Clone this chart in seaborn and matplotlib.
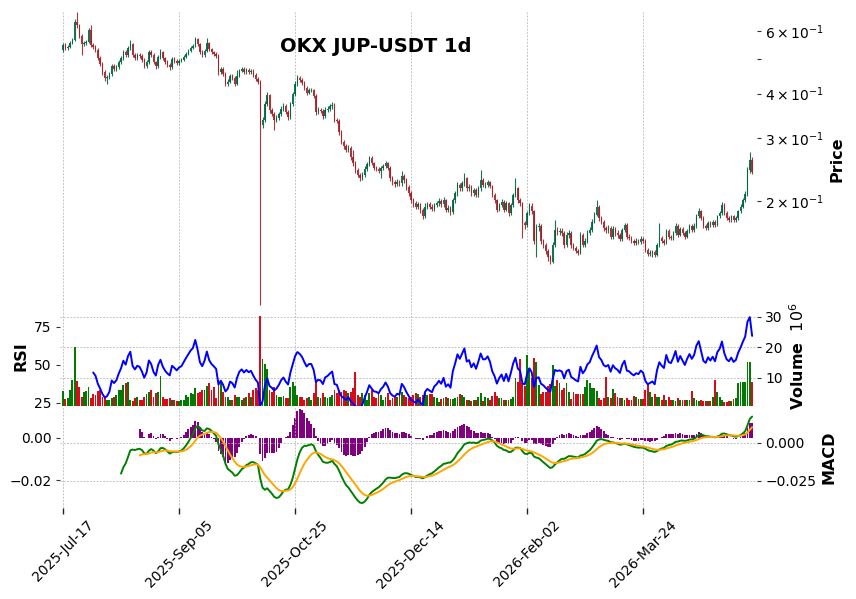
import numpy as np
import pandas as pd
import matplotlib
matplotlib.use("Agg")
import matplotlib.pyplot as plt
import seaborn as sns
from matplotlib.ticker import MultipleLocator
from matplotlib.colors import to_rgba

# ---------------- data ----------------
title = "OKX JUP-USDT 1d"
start_date = "2025-07-17"
first_open = 0.530

close = [
    0.547, 0.537, 0.540, 0.554, 0.565, 0.635, 0.622, 0.580, 0.551, 0.554,
    0.558, 0.603, 0.547, 0.540, 0.530, 0.503, 0.484, 0.460, 0.442, 0.445,
    0.454, 0.478, 0.469, 0.475, 0.490, 0.503, 0.523, 0.513, 0.537, 0.551,
    0.513, 0.503, 0.513, 0.510, 0.497, 0.478, 0.490, 0.523, 0.513, 0.490,
    0.478, 0.507, 0.523, 0.503, 0.490, 0.481, 0.475, 0.500, 0.494, 0.487,
    0.494, 0.497, 0.507, 0.517, 0.527, 0.537, 0.544, 0.569, 0.551, 0.523,
    0.513, 0.527, 0.554, 0.533, 0.523, 0.517, 0.510, 0.460, 0.469, 0.454,
    0.426, 0.432, 0.448, 0.442, 0.426, 0.448, 0.463, 0.469, 0.460, 0.466,
    0.460, 0.463, 0.451, 0.440, 0.432, 0.327, 0.337, 0.374, 0.396, 0.360,
    0.351, 0.337, 0.342, 0.351, 0.363, 0.370, 0.355, 0.344, 0.374, 0.398,
    0.426, 0.442, 0.437, 0.429, 0.415, 0.402, 0.409, 0.409, 0.394, 0.355,
    0.360, 0.358, 0.346, 0.360, 0.363, 0.368, 0.372, 0.337, 0.335, 0.312,
    0.293, 0.285, 0.278, 0.282, 0.265, 0.255, 0.244, 0.237, 0.232, 0.237,
    0.246, 0.254, 0.264, 0.255, 0.247, 0.246, 0.242, 0.247, 0.250, 0.255,
    0.247, 0.232, 0.226, 0.223, 0.226, 0.224, 0.235, 0.229, 0.219, 0.210,
    0.201, 0.197, 0.193, 0.196, 0.189, 0.181, 0.193, 0.196, 0.193, 0.190,
    0.195, 0.197, 0.200, 0.196, 0.201, 0.189, 0.191, 0.186, 0.201, 0.210,
    0.222, 0.217, 0.224, 0.232, 0.217, 0.219, 0.210, 0.215, 0.208, 0.217,
    0.229, 0.222, 0.222, 0.226, 0.220, 0.208, 0.201, 0.189, 0.195, 0.199,
    0.189, 0.197, 0.185, 0.195, 0.208, 0.217, 0.201, 0.197, 0.173, 0.171,
    0.185, 0.194, 0.187, 0.155, 0.169, 0.170, 0.155, 0.151, 0.145, 0.139,
    0.135, 0.151, 0.166, 0.164, 0.165, 0.163, 0.151, 0.161, 0.163, 0.151,
    0.148, 0.145, 0.143, 0.161, 0.151, 0.155, 0.163, 0.166, 0.175, 0.183,
    0.193, 0.179, 0.175, 0.168, 0.166, 0.168, 0.159, 0.167, 0.163, 0.161,
    0.157, 0.166, 0.171, 0.159, 0.158, 0.155, 0.153, 0.155, 0.154, 0.157,
    0.155, 0.146, 0.142, 0.143, 0.144, 0.141, 0.151, 0.158, 0.155, 0.153,
    0.165, 0.159, 0.158, 0.163, 0.170, 0.161, 0.167, 0.163, 0.159, 0.165,
    0.170, 0.166, 0.170, 0.181, 0.187, 0.179, 0.170, 0.168, 0.174, 0.171,
    0.175, 0.171, 0.181, 0.185, 0.195, 0.185, 0.179, 0.177, 0.181, 0.177,
    0.179, 0.187, 0.193, 0.201, 0.209, 0.244, 0.261, 0.241,
]

high = [
    0.556, 0.553, 0.548, 0.560, 0.572, 0.648, 0.677, 0.628, 0.586, 0.562,
    0.566, 0.611, 0.622, 0.553, 0.546, 0.536, 0.510, 0.490, 0.466, 0.452,
    0.460, 0.485, 0.484, 0.482, 0.497, 0.510, 0.530, 0.529, 0.544, 0.565,
    0.556, 0.519, 0.520, 0.519, 0.516, 0.502, 0.497, 0.530, 0.529, 0.518,
    0.495, 0.514, 0.533, 0.528, 0.508, 0.496, 0.487, 0.507, 0.506, 0.499,
    0.501, 0.504, 0.513, 0.523, 0.533, 0.543, 0.551, 0.576, 0.574, 0.556,
    0.529, 0.534, 0.573, 0.559, 0.538, 0.528, 0.523, 0.515, 0.476, 0.474,
    0.459, 0.440, 0.455, 0.453, 0.447, 0.466, 0.469, 0.476, 0.474, 0.472,
    0.471, 0.469, 0.468, 0.456, 0.446, 0.437, 0.344, 0.381, 0.404, 0.400,
    0.365, 0.355, 0.348, 0.356, 0.368, 0.377, 0.374, 0.359, 0.380, 0.404,
    0.433, 0.451, 0.448, 0.442, 0.433, 0.419, 0.414, 0.415, 0.413, 0.398,
    0.366, 0.365, 0.362, 0.366, 0.369, 0.374, 0.379, 0.376, 0.342, 0.339,
    0.316, 0.297, 0.289, 0.287, 0.285, 0.278, 0.259, 0.247, 0.240, 0.241,
    0.250, 0.258, 0.268, 0.267, 0.258, 0.251, 0.249, 0.251, 0.254, 0.259,
    0.258, 0.250, 0.235, 0.229, 0.230, 0.229, 0.243, 0.238, 0.232, 0.222,
    0.213, 0.204, 0.200, 0.199, 0.198, 0.191, 0.197, 0.199, 0.199, 0.196,
    0.198, 0.200, 0.204, 0.203, 0.205, 0.203, 0.195, 0.194, 0.204, 0.213,
    0.226, 0.225, 0.228, 0.240, 0.234, 0.223, 0.222, 0.218, 0.217, 0.220,
    0.244, 0.232, 0.226, 0.229, 0.228, 0.222, 0.210, 0.203, 0.198, 0.202,
    0.201, 0.200, 0.199, 0.198, 0.211, 0.232, 0.219, 0.204, 0.199, 0.176,
    0.188, 0.197, 0.197, 0.189, 0.172, 0.173, 0.172, 0.157, 0.153, 0.147,
    0.141, 0.154, 0.177, 0.169, 0.168, 0.168, 0.165, 0.164, 0.166, 0.165,
    0.153, 0.150, 0.147, 0.164, 0.163, 0.158, 0.166, 0.169, 0.178, 0.186,
    0.201, 0.195, 0.182, 0.177, 0.170, 0.171, 0.170, 0.170, 0.169, 0.166,
    0.163, 0.168, 0.174, 0.173, 0.162, 0.160, 0.157, 0.158, 0.157, 0.160,
    0.159, 0.157, 0.148, 0.146, 0.146, 0.146, 0.153, 0.174, 0.160, 0.157,
    0.167, 0.167, 0.161, 0.165, 0.173, 0.172, 0.169, 0.169, 0.165, 0.167,
    0.172, 0.172, 0.173, 0.184, 0.191, 0.189, 0.181, 0.172, 0.176, 0.176,
    0.177, 0.177, 0.183, 0.188, 0.199, 0.197, 0.187, 0.181, 0.183, 0.183,
    0.181, 0.189, 0.196, 0.204, 0.213, 0.249, 0.274, 0.265,
]

low = [
    0.524, 0.531, 0.530, 0.536, 0.549, 0.561, 0.612, 0.572, 0.513, 0.545,
    0.548, 0.553, 0.541, 0.533, 0.524, 0.496, 0.477, 0.452, 0.434, 0.426,
    0.439, 0.449, 0.463, 0.463, 0.470, 0.485, 0.498, 0.507, 0.508, 0.531,
    0.506, 0.496, 0.497, 0.503, 0.490, 0.471, 0.473, 0.485, 0.506, 0.483,
    0.470, 0.473, 0.501, 0.497, 0.484, 0.474, 0.466, 0.470, 0.488, 0.480,
    0.482, 0.489, 0.492, 0.502, 0.512, 0.522, 0.532, 0.539, 0.545, 0.516,
    0.506, 0.508, 0.522, 0.527, 0.517, 0.511, 0.503, 0.452, 0.455, 0.447,
    0.419, 0.421, 0.428, 0.436, 0.420, 0.422, 0.444, 0.459, 0.454, 0.455,
    0.454, 0.455, 0.446, 0.434, 0.426, 0.102, 0.321, 0.333, 0.369, 0.354,
    0.345, 0.316, 0.332, 0.338, 0.347, 0.358, 0.350, 0.338, 0.340, 0.370,
    0.394, 0.421, 0.431, 0.423, 0.409, 0.397, 0.398, 0.403, 0.389, 0.349,
    0.350, 0.353, 0.340, 0.342, 0.355, 0.358, 0.363, 0.332, 0.330, 0.307,
    0.289, 0.280, 0.274, 0.274, 0.261, 0.251, 0.240, 0.233, 0.228, 0.229,
    0.234, 0.243, 0.251, 0.252, 0.244, 0.243, 0.239, 0.232, 0.244, 0.247,
    0.244, 0.228, 0.222, 0.219, 0.220, 0.220, 0.221, 0.225, 0.215, 0.207,
    0.198, 0.193, 0.190, 0.190, 0.185, 0.178, 0.179, 0.190, 0.190, 0.187,
    0.187, 0.192, 0.194, 0.192, 0.193, 0.186, 0.186, 0.183, 0.184, 0.198,
    0.207, 0.214, 0.214, 0.221, 0.214, 0.213, 0.207, 0.207, 0.205, 0.205,
    0.214, 0.219, 0.218, 0.219, 0.217, 0.205, 0.197, 0.186, 0.187, 0.192,
    0.186, 0.187, 0.182, 0.183, 0.193, 0.205, 0.198, 0.194, 0.158, 0.167,
    0.169, 0.183, 0.184, 0.152, 0.139, 0.165, 0.152, 0.148, 0.142, 0.136,
    0.133, 0.134, 0.149, 0.161, 0.161, 0.160, 0.148, 0.149, 0.158, 0.148,
    0.146, 0.143, 0.141, 0.142, 0.149, 0.149, 0.153, 0.161, 0.164, 0.173,
    0.181, 0.176, 0.172, 0.165, 0.163, 0.163, 0.157, 0.157, 0.160, 0.158,
    0.155, 0.155, 0.164, 0.157, 0.156, 0.153, 0.151, 0.151, 0.152, 0.152,
    0.153, 0.144, 0.140, 0.140, 0.139, 0.139, 0.140, 0.149, 0.153, 0.151,
    0.152, 0.157, 0.156, 0.156, 0.161, 0.159, 0.160, 0.161, 0.157, 0.158,
    0.163, 0.164, 0.164, 0.168, 0.179, 0.177, 0.168, 0.166, 0.166, 0.169,
    0.169, 0.169, 0.170, 0.179, 0.183, 0.183, 0.177, 0.175, 0.175, 0.175,
    0.175, 0.177, 0.185, 0.191, 0.199, 0.207, 0.240, 0.238,
]

volume_millions = [
    5.8, 3.1, 3.3, 6.1, 9.3, 20.2, 9.1, 7.0, 3.8, 5.5,
    5.9, 7.0, 3.5, 4.8, 4.5, 5.9, 6.1, 3.9, 3.4, 2.9,
    2.7, 3.4, 3.9, 4.5, 6.1, 6.1, 7.7, 8.3, 8.8, 2.9,
    2.4, 3.4, 3.9, 2.9, 2.9, 3.9, 4.8, 5.5, 6.2, 3.9,
    5.0, 5.5, 10.6, 3.9, 3.1, 3.1, 3.3, 2.9, 2.9, 2.4,
    2.4, 2.9, 2.9, 4.3, 3.8, 5.0, 4.8, 6.7, 5.1, 5.5,
    6.2, 6.2, 7.3, 8.3, 6.1, 7.0, 3.4, 9.3, 8.3, 5.5,
    3.9, 3.7, 2.9, 2.9, 4.5, 3.9, 3.9, 2.9, 3.4, 3.9,
    5.0, 3.9, 6.2, 6.6, 6.1, 30.2, 16.2, 14.6, 13.0, 6.1,
    5.5, 7.0, 4.5, 3.9, 3.7, 4.1, 3.4, 3.4, 7.2, 8.8,
    7.3, 4.5, 3.9, 3.7, 2.9, 3.4, 3.9, 2.9, 5.0, 8.8,
    3.9, 3.4, 5.0, 3.9, 3.4, 3.9, 4.5, 6.1, 5.0, 6.1,
    5.5, 6.1, 5.9, 5.0, 5.5, 6.6, 12.1, 4.5, 3.9, 5.0,
    4.5, 2.9, 5.1, 6.1, 3.9, 3.4, 5.5, 4.5, 2.9, 3.9,
    5.0, 2.9, 3.4, 3.9, 3.7, 5.0, 5.5, 4.5, 3.9, 3.4,
    3.9, 4.5, 5.0, 4.8, 3.9, 4.5, 5.0, 4.4, 4.8, 4.8,
    3.9, 3.4, 2.0, 3.0, 3.4, 3.9, 3.4, 3.0, 3.1, 3.4,
    3.9, 4.7, 4.4, 3.7, 2.9, 2.7, 2.4, 2.7, 2.9, 3.9,
    5.2, 2.4, 3.9, 3.3, 2.9, 4.0, 5.4, 4.2, 3.4, 3.4,
    2.9, 2.9, 2.9, 3.1, 3.9, 10.0, 8.7, 16.2, 8.5, 7.4,
    17.5, 13.3, 10.0, 16.5, 15.3, 7.7, 4.8, 5.3, 5.5, 7.4,
    7.9, 14.2, 7.4, 9.4, 8.3, 6.1, 6.7, 8.3, 5.3, 3.0,
    5.3, 4.8, 4.8, 4.8, 4.8, 7.0, 9.3, 8.3, 6.7, 6.7,
    5.7, 3.4, 2.9, 3.4, 10.3, 3.9, 3.4, 6.3, 5.0, 3.9,
    3.4, 3.4, 2.9, 3.4, 2.9, 2.9, 4.0, 3.9, 3.2, 3.2,
    3.2, 6.1, 8.3, 5.3, 3.9, 4.8, 3.9, 3.9, 2.9, 4.5,
    2.9, 3.9, 2.9, 2.9, 2.4, 3.4, 2.9, 2.9, 2.9, 2.9,
    2.9, 5.7, 3.4, 2.9, 2.4, 2.9, 2.4, 2.4, 2.4, 2.4,
    3.9, 9.3, 5.3, 3.9, 2.9, 2.0, 2.0, 2.4, 2.4, 3.0,
    3.4, 8.3, 8.8, 8.8, 8.8, 15.3, 15.3, 8.8,
]

# ---------------- styling ----------------
sns.set_theme(style="white")
plt.rcParams["font.family"] = ["DejaVu Sans"]
plt.rcParams["axes.unicode_minus"] = True
for key in ("text.color", "axes.labelcolor", "xtick.labelcolor", "ytick.labelcolor"):
    plt.rcParams[key] = "black"

CANDLE_UP = to_rgba("#006340", 0.9)
CANDLE_DN = to_rgba("#a02128", 0.9)
VOL_UP = "#007a00"
VOL_DN = "#d50d18"
GRID = dict(color="#b4b4b4", linestyle=(0, (2.5, 1.8)), linewidth=0.55)
TICK_FS = 10
LABEL_FS = 11.5

n = len(close)
x = np.arange(n)
dates = pd.date_range(start_date, periods=n, freq="D")
c = np.array(close)
o = np.r_[first_open, c[:-1]]
h = np.maximum(np.array(high), np.maximum(o, c))
l = np.minimum(np.array(low), np.minimum(o, c))
up = c >= o

# indicators computed from the closes (Wilder RSI, 12/26/9 MACD)
s = pd.Series(c)
delta = s.diff().fillna(0.0)
gain = delta.clip(lower=0).ewm(alpha=1 / 14, adjust=False, min_periods=14).mean()
loss = (-delta.clip(upper=0)).ewm(alpha=1 / 14, adjust=False, min_periods=14).mean()
rsi = 100 - 100 / (1 + gain / loss)
ema12 = s.ewm(span=12, adjust=False, min_periods=12).mean()
ema26 = s.ewm(span=26, adjust=False, min_periods=26).mean()
macd = ema12 - ema26
signal = macd.ewm(span=9, adjust=False, min_periods=9).mean()
hist = macd - signal

# ---------------- figure / axes ----------------
W_PX, H_PX = 856, 599
fig = plt.figure(figsize=(W_PX / 100, H_PX / 100), dpi=100)
LEFT, RIGHT = 60, 757


def rect(top, bottom):
    return [LEFT / W_PX, 1 - bottom / H_PX, (RIGHT - LEFT) / W_PX, (bottom - top) / H_PX]


ax_p = fig.add_axes(rect(12, 306))
ax_v = fig.add_axes(rect(306, 406), sharex=ax_p)
ax_m = fig.add_axes(rect(406, 508), sharex=ax_p)
ax_r = ax_v.twinx()
ax_h = ax_m.twinx()

# price candles
ccol = [CANDLE_UP if u else CANDLE_DN for u in up]
ax_p.vlines(x, l, h, colors=ccol, linewidth=0.8)
ax_p.bar(x, np.abs(c - o), bottom=np.minimum(o, c), width=0.62, color=ccol, linewidth=0)
ax_p.set_yscale("log")
ax_p.set_ylim(0.1016, 0.677)

# volume + RSI
vcol = [VOL_UP if u else VOL_DN for u in up]
ax_v.bar(x, volume_millions, width=0.8, color=vcol, linewidth=0)
ax_v.set_ylim(0.82, 33.6)
ax_v.yaxis.set_major_locator(MultipleLocator(10))
sns.lineplot(x=x, y=rsi.values, ax=ax_r, color="blue", linewidth=1.4)
ax_r.set_ylim(23.0, 88.8)
ax_r.yaxis.set_major_locator(MultipleLocator(25))

# MACD
sns.lineplot(x=x, y=macd.values, ax=ax_m, color="green", linewidth=1.4)
sns.lineplot(x=x, y=signal.values, ax=ax_m, color="orange", linewidth=1.4)
ax_m.set_ylim(-0.0428, 0.0243)
ax_m.yaxis.set_major_locator(MultipleLocator(0.025))
ax_h.bar(x, hist.values, width=0.8, color="purple", linewidth=0)
ax_h.set_ylim(-0.0333, 0.0152)
ax_h.yaxis.set_major_locator(MultipleLocator(0.02))
ax_h.set_zorder(ax_m.get_zorder() - 1)
ax_m.patch.set_visible(False)

# axis sides
for ax in (ax_p, ax_v, ax_m):
    ax.yaxis.tick_right()
    ax.yaxis.set_label_position("right")
for ax in (ax_r, ax_h):
    ax.yaxis.tick_left()
    ax.yaxis.set_label_position("left")

ax_p.set_ylabel("Price", fontsize=LABEL_FS, fontweight="bold")
ax_v.set_ylabel("Volume  $10^{6}$", fontsize=LABEL_FS, fontweight="bold")
ax_r.set_ylabel("RSI", fontsize=LABEL_FS, fontweight="bold")
ax_m.set_ylabel("MACD", fontsize=LABEL_FS, fontweight="bold")
ax_h.set_ylabel("")
ax_r.set_xlabel("")
ax_m.set_xlabel("")

# x axis
ax_p.set_xlim(-1.3, 299.1)
tick_idx = list(range(0, n, 50))
ax_m.set_xticks(tick_idx)
ax_m.set_xticklabels([dates[i].strftime("%Y-%b-%d") for i in tick_idx],
                     rotation=45, ha="center", fontsize=TICK_FS)

for ax in (ax_p, ax_v, ax_r, ax_m, ax_h):
    for sp in ax.spines.values():
        sp.set_visible(False)
    ax.tick_params(axis="y", which="both", length=3, width=0.8, color="#333333",
                   labelsize=TICK_FS, pad=3, labelcolor="black")
for ax in (ax_p, ax_v, ax_r, ax_h):
    ax.tick_params(axis="x", which="both", bottom=False, top=False, labelbottom=False)
ax_m.tick_params(axis="x", which="both", bottom=True, length=4, width=1.0,
                 color="#222222", labelsize=TICK_FS, pad=3, labelcolor="black")
ax_p.tick_params(axis="y", which="both", right=True, left=False)
ax_v.tick_params(axis="y", right=True, left=False)
ax_m.tick_params(axis="y", right=True, left=False)
ax_r.tick_params(axis="y", left=True, right=False)
ax_h.tick_params(axis="y", left=True, right=False)

# grids
ax_p.grid(False)
ax_p.xaxis.grid(True, **GRID)
ax_v.grid(True, which="major", **GRID)
ax_m.grid(True, which="major", **GRID)
ax_r.grid(False)
ax_h.grid(False)
for ax in (ax_p, ax_v, ax_m):
    ax.set_axisbelow(True)

fig.text(376 / W_PX, 1 - 46 / H_PX, title, ha="center", va="center",
         fontsize=14, fontweight="bold", color="black")

fig.savefig("out.png", dpi=100)
